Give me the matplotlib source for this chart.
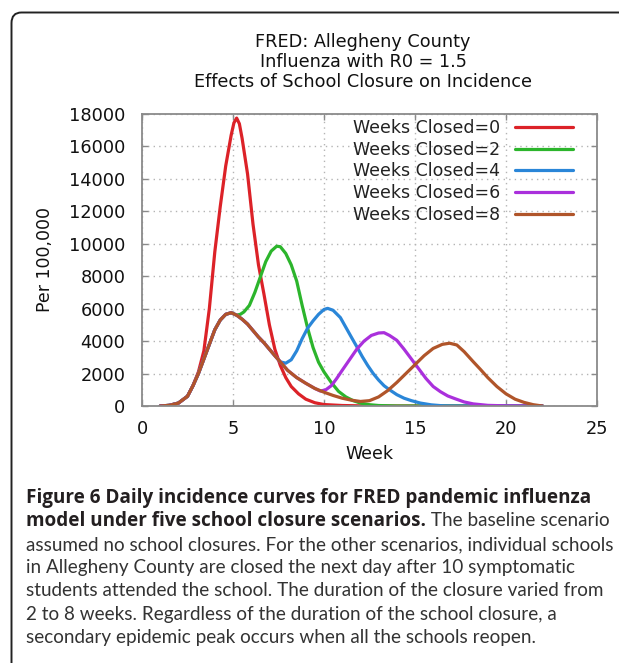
import matplotlib
matplotlib.use('Agg')
import matplotlib.pyplot as plt
from matplotlib.patches import FancyBboxPatch

# weekly incidence per 100,000
brown_wk = [1.0, 1.5, 2.0, 2.5, 2.8, 3.1, 3.4, 3.7, 4.0, 4.3, 4.6, 4.9, 5.2, 5.5, 5.8, 6.1, 6.4, 6.7,
            7.0, 7.3, 7.6, 8.0, 8.5, 9.0, 9.5, 10.0, 10.5, 11.0, 11.5, 12.0, 12.5, 13.0, 13.5, 14.0,
            14.5, 15.0, 15.5, 16.0, 16.5, 16.9, 17.3, 17.7, 18.2, 18.6, 19.0, 19.5, 20.0, 20.5, 21.0,
            21.5, 22.0]
brown = [0, 40, 180, 600, 1250, 2000, 2900, 3800, 4700, 5300, 5650, 5750, 5600, 5350, 5050, 4650,
         4250, 3900, 3500, 3100, 2720, 2200, 1750, 1400, 1080, 850, 650, 480, 360, 280, 330, 560,
         950, 1450, 2000, 2550, 3100, 3550, 3800, 3870, 3760, 3350, 2730, 2250, 1750, 1200, 750,
         420, 220, 80, 0]

red_wk = [1.0, 1.5, 2.0, 2.5, 2.8, 3.1, 3.4, 3.7, 4.0, 4.3, 4.6, 4.9, 5.05, 5.2, 5.35, 5.5, 5.8,
          6.1, 6.4, 6.7, 7.0, 7.3, 7.6, 7.9, 8.2, 8.6, 9.0, 9.5, 10.0, 11.0, 12.0, 13.0, 22.0]
red = [0, 40, 180, 600, 1250, 2100, 3400, 6000, 9500, 12300, 14800, 16700, 17450, 17750, 17400,
       16500, 14300, 11200, 8700, 6900, 5000, 3500, 2500, 1750, 1200, 750, 420, 200, 90, 30, 10,
       0, 0]

green_wk = [1.0, 1.5, 2.0, 2.5, 2.8, 3.1, 3.4, 3.7, 4.0, 4.3, 4.6, 4.9, 5.2, 5.4, 5.6, 5.9, 6.2,
            6.5, 6.8, 7.1, 7.4, 7.6, 7.9, 8.2, 8.5, 8.8, 9.1, 9.4, 9.7, 10.0, 10.4, 10.8, 11.2,
            11.6, 12.0, 12.5, 13.0, 14.0, 22.0]
green = [0, 40, 180, 600, 1250, 2000, 2900, 3800, 4700, 5300, 5650, 5750, 5600, 5650, 5800, 6200,
         7000, 7950, 8900, 9550, 9850, 9820, 9400, 8700, 7700, 6200, 4800, 3600, 2700, 2100, 1450,
         900, 560, 330, 180, 80, 30, 0, 0]

blue_wk = [1.0, 1.5, 2.0, 2.5, 2.8, 3.1, 3.4, 3.7, 4.0, 4.3, 4.6, 4.9, 5.2, 5.5, 5.8, 6.1, 6.4, 6.7,
           7.0, 7.3, 7.6, 7.9, 8.2, 8.5, 8.8, 9.1, 9.4, 9.7, 10.0, 10.2, 10.5, 10.9, 11.2, 11.5,
           11.8, 12.1, 12.4, 12.7, 13.0, 13.3, 13.6, 14.0, 14.4, 14.8, 15.3, 15.9, 16.5, 17.0, 22.0]
blue = [0, 40, 180, 600, 1250, 2000, 2900, 3800, 4700, 5300, 5650, 5750, 5600, 5350, 5050, 4650,
        4250, 3900, 3500, 3100, 2720, 2640, 2850, 3400, 4150, 4800, 5250, 5650, 5950, 6020, 5900,
        5450, 4850, 4250, 3660, 3050, 2500, 2010, 1600, 1250, 1000, 700, 480, 330, 180, 70, 15,
        0, 0]

purple_wk = [1.0, 1.5, 2.0, 2.5, 2.8, 3.1, 3.4, 3.7, 4.0, 4.3, 4.6, 4.9, 5.2, 5.5, 5.8, 6.1, 6.4,
             6.7, 7.0, 7.3, 7.6, 8.0, 8.5, 9.0, 9.5, 9.8, 10.1, 10.4, 10.7, 11.0, 11.4, 11.8, 12.2,
             12.6, 13.0, 13.3, 13.6, 14.0, 14.4, 14.8, 15.2, 15.6, 16.0, 16.4, 16.8, 17.2, 17.7,
             18.2, 19.0, 20.0, 22.0]
purple = [0, 40, 180, 600, 1250, 2000, 2900, 3800, 4700, 5300, 5650, 5750, 5600, 5350, 5050,
          4650, 4250, 3900, 3500, 3100, 2720, 2200, 1750, 1400, 1080, 920, 1000, 1250, 1700, 2200,
          2850, 3500, 4000, 4350, 4500, 4520, 4350, 4050, 3500, 2900, 2300, 1700, 1200, 880, 620,
          450, 250, 130, 40, 10, 0]

series = [
    (red_wk, red, '#dc2228', 'Weeks Closed=0'),
    (green_wk, green, '#2cb52c', 'Weeks Closed=2'),
    (blue_wk, blue, '#2a86d8', 'Weeks Closed=4'),
    (purple_wk, purple, '#aa30dc', 'Weeks Closed=6'),
    (brown_wk, brown, '#b0552a', 'Weeks Closed=8'),
]

title_lines = ['FRED: Allegheny County', 'Influenza with R0 = 1.5',
               'Effects of School Closure on Incidence']

cap_bold1 = 'Figure 6 Daily incidence curves for FRED pandemic influenza'
cap_bold2 = 'model under five school closure scenarios.'
cap_rest2 = ' The baseline scenario'
cap_lines = ['assumed no school closures. For the other scenarios, individual schools',
             'in Allegheny County are closed the next day after 10 symptomatic',
             'students attended the school. The duration of the closure varied from',
             '2 to 8 weeks. Regardless of the duration of the school closure, a',
             'secondary epidemic peak occurs when all the schools reopen.']

W, H = 619, 663
fig = plt.figure(figsize=(W / 100, H / 100), dpi=100)
fig.patch.set_facecolor('white')

# rounded frame around figure + caption (runs off the right/bottom edge)
frame = FancyBboxPatch((11.5 / W, -0.05), 1.0, 1 - 12.5 / H + 0.05,
                       boxstyle='round,pad=0,rounding_size=0.016',
                       transform=fig.transFigure, facecolor='none',
                       edgecolor='#222222', linewidth=1.4)
fig.patches.append(frame)

ax = fig.add_axes([142 / W, 1 - 406 / H, 455 / W, 292 / H])
for wk, val, col, lab in series:
    ax.plot(wk, val, color=col, lw=2.3, label=lab, solid_joinstyle='round',
            solid_capstyle='round')

ax.set_xlim(0, 25)
ax.set_ylim(0, 18000)
ax.set_xticks(range(0, 26, 5))
ax.set_yticks(range(0, 18001, 2000))
ax.grid(True, color='#b4b4b4', linestyle=(0, (1, 3)), linewidth=1)
for s in ax.spines.values():
    s.set_color('#8a8a8a')
    s.set_linewidth(1.3)
ax.tick_params(direction='in', length=4, width=1, color='#8a8a8a',
               top=True, right=True, labelsize=12.8, labelcolor='#111111')
ax.tick_params(axis='y', pad=12)
ax.tick_params(axis='x', pad=10)
ax.set_xlabel('Week', fontsize=12.5, color='#111111', labelpad=5)
ax.set_ylabel('Per 100,000', fontsize=12.5, color='#111111', labelpad=11)

leg = ax.legend(loc='upper right', bbox_to_anchor=(573 / W, 1 - 119 / H),
                bbox_transform=fig.transFigure, frameon=False, markerfirst=False,
                fontsize=12.5, handlelength=3.35, handletextpad=0.85,
                labelspacing=0.21, borderpad=0, borderaxespad=0)
for t in leg.get_texts():
    t.set_color('#222222')

for i, line in enumerate(title_lines):
    fig.text(363 / W, 1 - (42 + 20 * i) / H, line, ha='center', va='center',
             fontsize=12.7, color='#111111')

# caption: size each font so the lines span the same width as the original
renderer = fig.canvas.get_renderer()


def fit_size(text, family, weight, target_px, base=12.0):
    t = fig.text(0, 0, text, fontsize=base, family=family, weight=weight)
    w = t.get_window_extent(renderer=renderer).width
    t.remove()
    return base * target_px / w


bold_font = 'Open Sans'
reg_font = 'Lato'
bold_size = fit_size(cap_bold1, bold_font, 'bold', 564)
reg_size = fit_size(cap_lines[0], reg_font, 'normal', 586)

x0 = 26 / W
base = [503, 526, 550, 573, 596, 620, 643]
fig.text(x0, 1 - base[0] / H, cap_bold1, fontsize=bold_size, family=bold_font,
         weight='bold', color='#231f20', va='baseline')
b2 = fig.text(x0, 1 - base[1] / H, cap_bold2, fontsize=bold_size, family=bold_font,
              weight='bold', color='#231f20', va='baseline')
bb = b2.get_window_extent(renderer=renderer)
fig.text(bb.x1 / W, 1 - base[1] / H, cap_rest2, fontsize=reg_size, family=reg_font,
         color='#333333', va='baseline')
for y, line in zip(base[2:], cap_lines):
    fig.text(x0, 1 - y / H, line, fontsize=reg_size, family=reg_font,
             color='#333333', va='baseline')

fig.savefig('out.png', dpi=100)
